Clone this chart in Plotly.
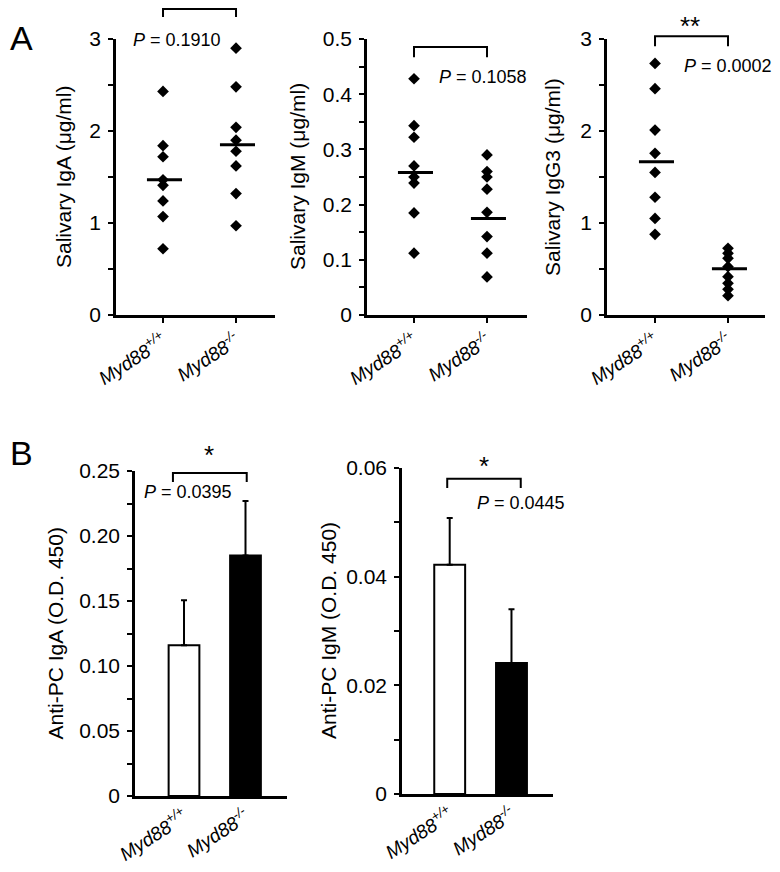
import plotly.graph_objects as go

OFF = 8  # page body margin in the browser
W, H = 780 - OFF, 872 - OFF

# ---------------- data ----------------
groups = ["Myd88+/+", "Myd88-/-"]
tick_text = ["<i>Myd88<sup>+/+</sup></i>", "<i>Myd88<sup>-/-</sup></i>"]

iga_wt = [2.43, 1.84, 1.72, 1.47, 1.41, 1.24, 1.07, 0.72]
iga_ko = [2.90, 2.48, 2.04, 1.90, 1.78, 1.62, 1.32, 0.97]
iga_line = [1.47, 1.85]

igm_wt = [0.428, 0.343, 0.322, 0.270, 0.250, 0.239, 0.185, 0.112]
igm_ko = [0.290, 0.260, 0.250, 0.228, 0.186, 0.142, 0.112, 0.069]
igm_line = [0.258, 0.175]

igg3_wt = [2.735, 2.46, 2.01, 1.757, 1.55, 1.28, 1.05, 0.877]
igg3_ko = [0.725, 0.67, 0.616, 0.525, 0.417, 0.344, 0.279, 0.21]
igg3_line = [1.667, 0.504]

pc_iga_mean = [0.116, 0.185]
pc_iga_err = [0.0345, 0.042]
pc_igm_mean = [0.0422, 0.0241]
pc_igm_err = [0.0086, 0.0099]

p_values = ["0.1910", "0.1058", "0.0002", "0.0395", "0.0445"]
stars = ["", "", "**", "*", "*"]

FONT = "Arial, Liberation Sans, sans-serif"

# ---------------- panel layout (window pixels) ----------------
panels = [
    dict(px=(116, 275), py=(39, 315), xr=(-0.644, 1.534), yr=(0, 3), dtick=1, minor=0.5,
         title="Salivary IgA (μg/ml)", tshift=-53, ticks=True),
    dict(px=(367, 527), py=(39, 315), xr=(-0.644, 1.548), yr=(0, 0.5), dtick=0.1, minor=0.05,
         title="Salivary IgM (μg/ml)", tshift=-70, ticks=True),
    dict(px=(607, 765), py=(39, 315), xr=(-0.658, 1.507), yr=(0, 3), dtick=1, minor=0.5,
         title="Salivary IgG3 (μg/ml)", tshift=-55, ticks=True),
    dict(px=(135, 287), py=(471, 796), xr=(-0.797, 1.675), yr=(0, 0.25), dtick=0.05, minor=0.025,
         title="Anti-PC IgA (O.D. 450)", tshift=-80, ticks=False,
         tickvals=[0, 0.05, 0.10, 0.15, 0.20, 0.25],
         ticktext=["0", "0.05", "0.10", "0.15", "0.20", "0.25"]),
    dict(px=(402, 553), py=(468, 794), xr=(-0.772, 1.672), yr=(0, 0.06), dtick=0.02, minor=0.01,
         title="Anti-PC IgM (O.D. 450)", tshift=-74, ticks=False),
]


def fx(px):
    return (px - OFF) / W


def fy(py):
    return 1 - (py - OFF) / H


fig = go.Figure()
layout = dict(
    width=W, height=H, margin=dict(l=0, r=0, t=0, b=0, autoexpand=False),
    paper_bgcolor="white", plot_bgcolor="white", showlegend=False,
    font=dict(family=FONT, color="black", size=18),
)

annotations = []
shapes = []


def to_paper(p, xv, yv):
    x0, x1 = fx(p["px"][0]), fx(p["px"][1])
    y0, y1 = fy(p["py"][1]), fy(p["py"][0])
    xp = x0 + (xv - p["xr"][0]) / (p["xr"][1] - p["xr"][0]) * (x1 - x0)
    yp = y0 + (yv - p["yr"][0]) / (p["yr"][1] - p["yr"][0]) * (y1 - y0)
    return xp, yp


for i, p in enumerate(panels):
    k = "" if i == 0 else str(i + 1)
    xa = dict(
        domain=[fx(p["px"][0]), fx(p["px"][1])], range=list(p["xr"]), anchor="y" + k,
        tickvals=[0, 1], ticktext=tick_text, tickangle=-33, automargin=False,
        showline=True, linecolor="black", linewidth=2.5,
        ticks="outside" if p["ticks"] else "", ticklen=5, tickwidth=2, tickcolor="black",
        showgrid=False, zeroline=False, tickfont=dict(size=19, family=FONT),
        fixedrange=True,
    )
    ya = dict(
        domain=[fy(p["py"][1]), fy(p["py"][0])], range=list(p["yr"]), anchor="x" + k,
        showline=True, linecolor="black", linewidth=2.5, automargin=False,
        ticks="outside", ticklen=5, tickwidth=2, tickcolor="black", ticklabelstandoff=3,
        minor=dict(dtick=p["minor"], ticks="outside", ticklen=5, tickwidth=2, tickcolor="black",
                   showgrid=False),
        showgrid=False, zeroline=False, tickfont=dict(size=21, family=FONT),
        fixedrange=True,
    )
    if "tickvals" in p:
        ya["tickvals"] = p["tickvals"]
        ya["ticktext"] = p["ticktext"]
    else:
        ya["dtick"] = p["dtick"]
        ya["tick0"] = 0
    layout["xaxis" + k] = xa
    layout["yaxis" + k] = ya
    annotations.append(dict(
        text=p["title"], xref="x" + k + " domain", yref="y" + k + " domain",
        x=0, y=0.5, xshift=p["tshift"], textangle=-90, showarrow=False,
        font=dict(size=21, family=FONT), xanchor="center", yanchor="middle",
    ))

# ---------------- panel A: dot plots ----------------
dot_sets = [(iga_wt, iga_ko, iga_line), (igm_wt, igm_ko, igm_line), (igg3_wt, igg3_ko, igg3_line)]
for i, (wt, ko, ln) in enumerate(dot_sets):
    k = "" if i == 0 else str(i + 1)
    for g, vals in enumerate([wt, ko]):
        fig.add_trace(go.Scatter(
            x=[g] * len(vals), y=vals, mode="markers", xaxis="x" + k, yaxis="y" + k,
            marker=dict(symbol="diamond", size=9, color="black"), cliponaxis=False,
        ))
        fig.add_trace(go.Scatter(
            x=[g - 0.22, g + 0.26], y=[ln[g], ln[g]], mode="lines", xaxis="x" + k, yaxis="y" + k,
            line=dict(color="black", width=3),
        ))

# ---------------- panel B: bar charts ----------------
bar_sets = [(pc_iga_mean, pc_iga_err), (pc_igm_mean, pc_igm_err)]
for j, (mean, err) in enumerate(bar_sets):
    k = str(j + 4)
    fig.add_trace(go.Bar(
        x=[0, 1], y=mean, xaxis="x" + k, yaxis="y" + k, width=0.5,
        marker=dict(color=["white", "black"], line=dict(color="black", width=2)),
        error_y=dict(type="data", array=err, arrayminus=[0, 0], symmetric=False,
                     color="black", thickness=2, width=3),
    ))

# ---------------- significance brackets & text ----------------
brackets = [
    (0.0, 1.0, 3.326, 3.24),
    (0.0, 1.0, 0.4855, 0.467),
    (0.0, 1.0, 3.03, 2.92),
    (-0.18, 1.02, 0.2485, 0.2415),
    (-0.04, 1.15, 0.0580, 0.0563),
]
p_pos = [(0.19, 2.99), (0.95, 0.431), (1.0, 2.71), (0.06, 0.234), (1.16, 0.0536)]
star_pos = [None, None, (0.48, 3.14), (0.41, 0.2625), (0.55, 0.0604)]

for i, p in enumerate(panels):
    xl, xr_, yt, yl = brackets[i]
    a = to_paper(p, xl, yl)
    b = to_paper(p, xl, yt)
    c = to_paper(p, xr_, yt)
    d = to_paper(p, xr_, yl)
    shapes.append(dict(
        type="path", xref="paper", yref="paper",
        path=f"M {a[0]},{a[1]} L {b[0]},{b[1]} L {c[0]},{c[1]} L {d[0]},{d[1]}",
        line=dict(color="black", width=2),
    ))
    tx, ty = to_paper(p, *p_pos[i])
    annotations.append(dict(
        text=f"<i>P</i> = {p_values[i]}", xref="paper", yref="paper",
        x=tx, y=ty, showarrow=False, xanchor="center", yanchor="middle",
        font=dict(size=18, family=FONT),
    ))
    if stars[i]:
        sx, sy = to_paper(p, *star_pos[i])
        annotations.append(dict(
            text=stars[i], xref="paper", yref="paper",
            x=sx, y=sy, showarrow=False, xanchor="center",
            yanchor="middle", font=dict(size=26, family=FONT),
        ))

# panel letters
annotations.append(dict(text="A", xref="paper", yref="paper", x=fx(8), y=fy(38),
                        xanchor="left", yanchor="middle", showarrow=False,
                        font=dict(size=34, family=FONT)))
annotations.append(dict(text="B", xref="paper", yref="paper", x=fx(8), y=fy(453),
                        xanchor="left", yanchor="middle", showarrow=False,
                        font=dict(size=34, family=FONT)))

layout["annotations"] = annotations
layout["shapes"] = shapes
fig.update_layout(**layout)
fig.write_html("out.html")
